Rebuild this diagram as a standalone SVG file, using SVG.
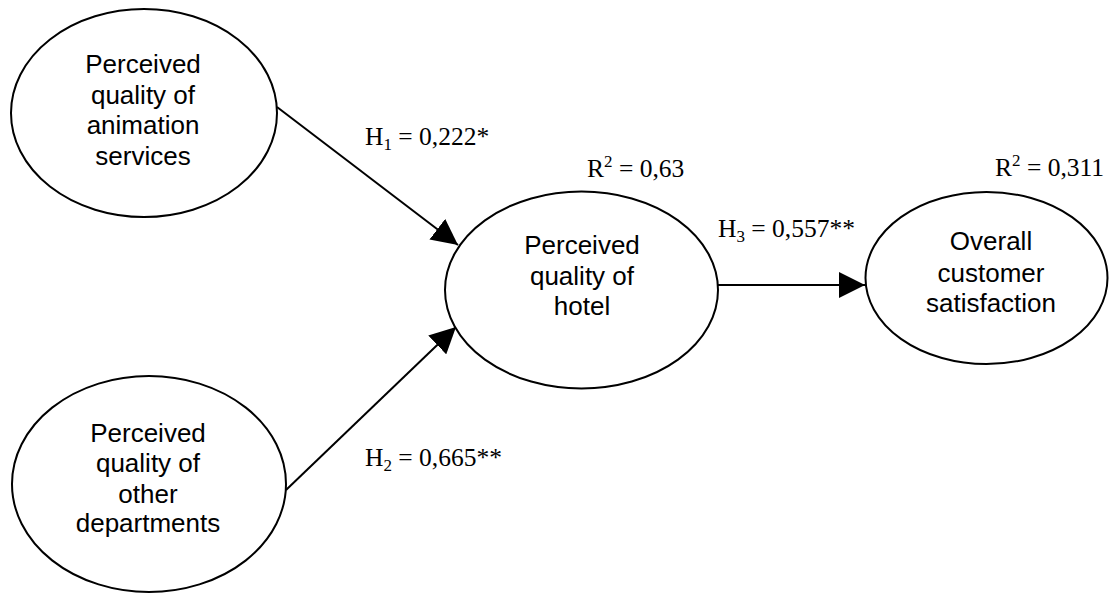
<svg xmlns="http://www.w3.org/2000/svg" width="1109" height="593" viewBox="0 0 1109 593">
<style>
.node ellipse{fill:#fff;stroke:#000;stroke-width:2}
.lbl{font-family:"Liberation Sans",Arial,sans-serif;font-size:26px;fill:#000;text-anchor:middle}
.stat{font-family:"Liberation Serif","Times New Roman",serif;font-size:25.5px;fill:#000}
.sub{font-size:17px}
.conn line{stroke:#000;stroke-width:2}
</style>
<defs>
<marker id="ah" markerUnits="userSpaceOnUse" markerWidth="26" markerHeight="26" viewBox="0 0 26 26" refX="26" refY="13" orient="auto">
<path d="M0,0 L26,13 L0,26 z" fill="#000"/>
</marker>
</defs>
<rect width="1109" height="593" fill="#fff"/>
<g id="connectors" class="conn">
<line x1="277" y1="107" x2="458" y2="245" marker-end="url(#ah)"/>
<line x1="286" y1="490" x2="456" y2="327" marker-end="url(#ah)"/>
<line x1="718" y1="285" x2="865" y2="285" marker-end="url(#ah)"/>
</g>
<g id="node-animation" class="node">
<ellipse cx="144" cy="113" rx="133" ry="104"/>
<text class="lbl" x="143" y="73">Perceived</text>
<text class="lbl" x="143" y="104">quality of</text>
<text class="lbl" x="143" y="134">animation</text>
<text class="lbl" x="143" y="165">services</text>
</g>
<g id="node-other" class="node">
<ellipse cx="149" cy="484" rx="137" ry="108"/>
<text class="lbl" x="148" y="442">Perceived</text>
<text class="lbl" x="148" y="472">quality of</text>
<text class="lbl" x="148" y="503">other</text>
<text class="lbl" x="148" y="532">departments</text>
</g>
<g id="node-hotel" class="node">
<ellipse cx="581.5" cy="290" rx="136.5" ry="98.5"/>
<text class="lbl" x="582" y="254">Perceived</text>
<text class="lbl" x="582" y="285">quality of</text>
<text class="lbl" x="582" y="315">hotel</text>
</g>
<g id="node-satisfaction" class="node">
<ellipse cx="986.5" cy="278" rx="121" ry="86"/>
<text class="lbl" x="991" y="250">Overall</text>
<text class="lbl" x="991" y="282">customer</text>
<text class="lbl" x="991" y="312">satisfaction</text>
</g>
<g id="labels">
<text class="stat" x="365" y="145">H<tspan class="sub" dy="5">1</tspan><tspan dy="-5"> = 0,222*</tspan></text>
<text class="stat" x="365" y="466">H<tspan class="sub" dy="5">2</tspan><tspan dy="-5"> = 0,665**</tspan></text>
<text class="stat" x="718" y="237">H<tspan class="sub" dy="5">3</tspan><tspan dy="-5"> = 0,557**</tspan></text>
<text class="stat" x="587" y="177">R<tspan class="sub" dy="-10">2</tspan><tspan dy="10"> = 0,63</tspan></text>
<text class="stat" x="995" y="176">R<tspan class="sub" dy="-10">2</tspan><tspan dy="10"> = 0,311</tspan></text>
</g>
</svg>
